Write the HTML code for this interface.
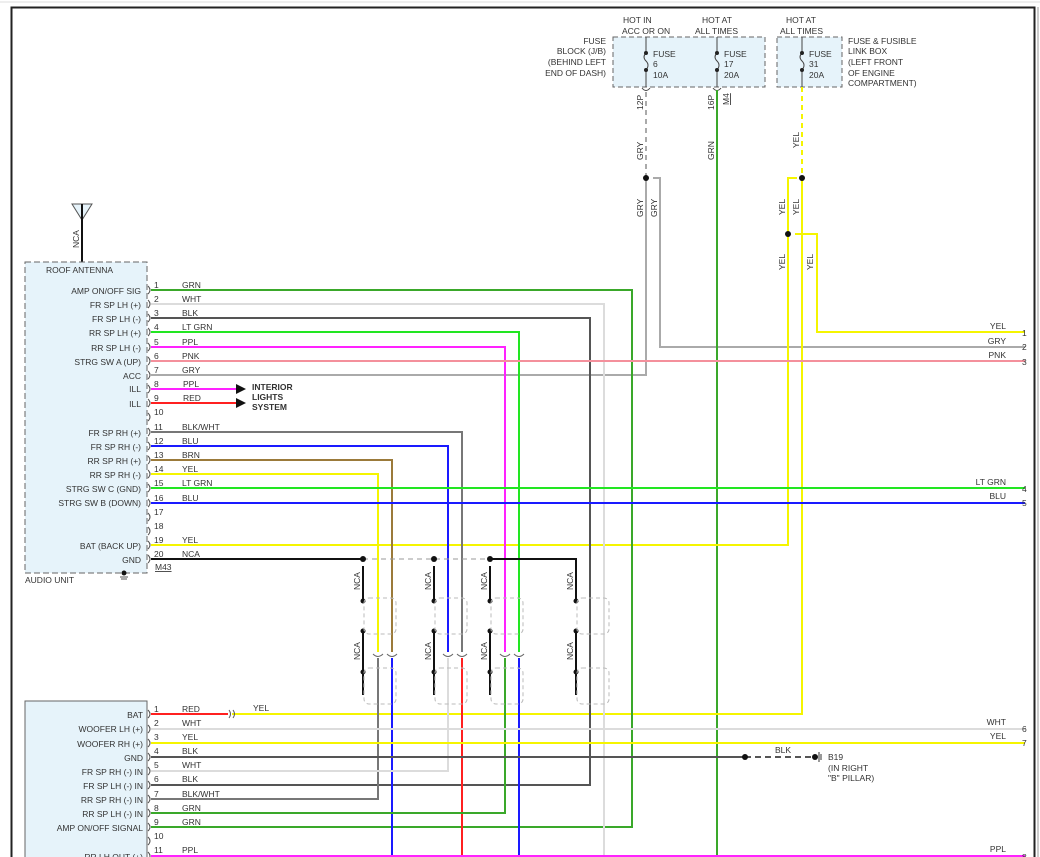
<!DOCTYPE html>
<html><head><meta charset="utf-8"><style>
html,body{margin:0;padding:0;background:#fff;}
svg{display:block;}
text{font-family:"Liberation Sans",sans-serif;font-size:8.5px;fill:#333;}
</style></head><body>
<svg width="1040" height="857" viewBox="0 0 1040 857" xmlns="http://www.w3.org/2000/svg">
<line x1="0" y1="2" x2="1040" y2="2" stroke="#ddd" stroke-width="1"/>
<path d="M11.5 857 V7.5 H1034.5 V857" fill="none" stroke="#222" stroke-width="2"/>
<line x1="1038" y1="7" x2="1038" y2="857" stroke="#999" stroke-width="1"/>

<!-- fuse boxes -->
<rect x="613" y="37" width="152" height="50" fill="#e6f3fa" stroke="#666" stroke-dasharray="5,3"/>
<rect x="777" y="37" width="65" height="50" fill="#e6f3fa" stroke="#666" stroke-dasharray="5,3"/>
<g stroke="#444" fill="none" stroke-width="1">
<path d="M646 37 V53 q-4 4 0 8 q4 4 0 9 V87"/><path d="M717 37 V53 q-4 4 0 8 q4 4 0 9 V87"/><path d="M802 37 V53 q-4 4 0 8 q4 4 0 9 V87"/>
<path d="M642 88 q4 5 8 0 M713 88 q4 5 8 0"/>
</g>
<g fill="#222"><circle cx="646" cy="53" r="2"/><circle cx="646" cy="70" r="2"/><circle cx="717" cy="53" r="2"/><circle cx="717" cy="70" r="2"/><circle cx="802" cy="53" r="2"/><circle cx="802" cy="70" r="2"/></g>
<text x="623" y="23" >HOT IN</text><text x="622" y="34">ACC OR ON</text>
<text x="702" y="23">HOT AT</text><text x="695" y="34">ALL TIMES</text>
<text x="786" y="23">HOT AT</text><text x="780" y="34">ALL TIMES</text>
<text x="653" y="57">FUSE</text><text x="653" y="67">6</text><text x="653" y="78">10A</text>
<text x="724" y="57">FUSE</text><text x="724" y="67">17</text><text x="724" y="78">20A</text>
<text x="809" y="57">FUSE</text><text x="809" y="67">31</text><text x="809" y="78">20A</text>
<g text-anchor="end"><text x="606" y="44">FUSE</text><text x="606" y="54">BLOCK (J/B)</text><text x="606" y="65">(BEHIND LEFT</text><text x="606" y="76">END OF DASH)</text></g>
<text x="848" y="44">FUSE &amp; FUSIBLE</text><text x="848" y="54">LINK BOX</text><text x="848" y="65">(LEFT FRONT</text><text x="848" y="76">OF ENGINE</text><text x="848" y="86">COMPARTMENT)</text>
<text transform="translate(643,110) rotate(-90)">12P</text>
<text transform="translate(714,110) rotate(-90)">16P</text>
<text transform="translate(729,105) rotate(-90)" text-decoration="underline">M4</text>

<!-- top vertical wires -->
<line x1="646" y1="92" x2="646" y2="178" stroke="#aaa" stroke-width="2" stroke-dasharray="5,4"/>
<path d="M646 178 V375 H151" fill="none" stroke="#aaa" stroke-width="2"/>
<path d="M653 178 H660 V347 H1025" fill="none" stroke="#aaa" stroke-width="2"/>
<line x1="717" y1="90" x2="717" y2="857" stroke="#3aa82a" stroke-width="2"/>
<line x1="802" y1="87" x2="802" y2="178" stroke="#f5f500" stroke-width="2" stroke-dasharray="5,4"/>
<path d="M802 178 V714 H232" fill="none" stroke="#f5f500" stroke-width="2"/>
<path d="M797 178 H788 V545 H151" fill="none" stroke="#f5f500" stroke-width="2"/>
<path d="M795 234 H817 V332 H1025" fill="none" stroke="#f5f500" stroke-width="2"/>
<g fill="#111"><circle cx="646" cy="178" r="3"/><circle cx="802" cy="178" r="3"/><circle cx="788" cy="234" r="3"/></g>
<g font-size="8">
<text transform="translate(643,160) rotate(-90)">GRY</text>
<text transform="translate(643,217) rotate(-90)">GRY</text>
<text transform="translate(657,217) rotate(-90)">GRY</text>
<text transform="translate(714,160) rotate(-90)">GRN</text>
<text transform="translate(799,148) rotate(-90)">YEL</text>
<text transform="translate(785,215) rotate(-90)">YEL</text>
<text transform="translate(799,215) rotate(-90)">YEL</text>
<text transform="translate(785,270) rotate(-90)">YEL</text>
<text transform="translate(813,270) rotate(-90)">YEL</text>
</g>

<!-- antenna -->
<path d="M72 204 H92 L82 220 Z" fill="#e6f3fa" stroke="#555"/>
<line x1="82" y1="204" x2="82" y2="262" stroke="#111" stroke-width="2"/>
<text transform="translate(79,248) rotate(-90)">NCA</text>

<!-- audio unit -->
<rect x="25" y="262" width="122" height="311" fill="#e6f3fa" stroke="#666" stroke-dasharray="6,3"/>
<text x="46" y="273">ROOF ANTENNA</text>
<text x="25" y="583">AUDIO UNIT</text>
<text x="155" y="570" text-decoration="underline">M43</text>
<circle cx="124" cy="573" r="2.5" fill="#111"/>
<g stroke="#555"><line x1="120" y1="577" x2="128" y2="577"/><line x1="121" y1="579" x2="127" y2="579"/></g>

<!-- top wires -->
<g fill="none" stroke-width="2">
<path d="M151 290 H632 V827 H151" stroke="#3aa82a"/>
<path d="M151 304 H604 V857" stroke="#dcdcdc"/>
<path d="M151 318 H590 V785 H151" stroke="#555"/>
<path d="M151 332 H519 V652" stroke="#22e622"/>
<path d="M151 347 H505 V652" stroke="#ff22ff"/>
<path d="M151 361 H1025" stroke="#f4909c"/>
<path d="M151 389 H238" stroke="#ff22ff"/>
<path d="M151 403 H238" stroke="#ff2020"/>
<path d="M151 432 H462 V652" stroke="#777"/>
<path d="M151 446 H448 V652" stroke="#1a1aff"/>
<path d="M151 460 H392 V652" stroke="#9b7a3a"/>
<path d="M151 474 H378 V652" stroke="#f5f500"/>
<path d="M151 488 H1025" stroke="#22e622"/>
<path d="M151 503 H1025" stroke="#1a1aff"/>
<path d="M151 559 H363" stroke="#111"/>
<path d="M490 559 H576 V600" stroke="#111"/>
<path d="M378 658 V799 H151" stroke="#777"/>
<path d="M392 658 V857" stroke="#1a1aff"/>
<path d="M448 658 V771 H151" stroke="#dcdcdc"/>
<path d="M462 658 V857" stroke="#ff2020"/>
<path d="M505 658 V813 H151" stroke="#3aa82a"/>
<path d="M519 658 V857" stroke="#1a1aff"/>
<path d="M151 714 H228" stroke="#ff2020"/>
<path d="M151 729 H1025" stroke="#dcdcdc"/>
<path d="M151 743 H1025" stroke="#f5f500"/>
<path d="M151 757 H745" stroke="#555"/>
<path d="M151 856 H1025" stroke="#ff22ff"/>
</g>
<!-- pin brackets -->
<g fill="none" stroke="#555" stroke-width="1">
<path d="M148 286 q4 4 0 8 M148 300 q4 4 0 8 M148 314 q4 4 0 8 M148 328 q4 4 0 8 M148 343 q4 4 0 8 M148 357 q4 4 0 8 M148 371 q4 4 0 8 M148 385 q4 4 0 8 M148 399 q4 4 0 8 M148 413 q4 4 0 8 M148 428 q4 4 0 8 M148 442 q4 4 0 8 M148 456 q4 4 0 8 M148 470 q4 4 0 8 M148 484 q4 4 0 8 M148 499 q4 4 0 8 M148 513 q4 4 0 8 M148 527 q4 4 0 8 M148 541 q4 4 0 8 M148 555 q4 4 0 8"/>
<path d="M148 710 q4 4 0 8 M148 725 q4 4 0 8 M148 739 q4 4 0 8 M148 753 q4 4 0 8 M148 767 q4 4 0 8 M148 781 q4 4 0 8 M148 795 q4 4 0 8 M148 809 q4 4 0 8 M148 823 q4 4 0 8 M148 837 q4 4 0 8 M148 852 q4 4 0 8"/>
</g>
<line x1="363" y1="559" x2="490" y2="559" stroke="#999" stroke-dasharray="5,4"/>
<line x1="745" y1="757" x2="815" y2="757" stroke="#555" stroke-width="2" stroke-dasharray="6,4"/>
<g fill="#111"><circle cx="745" cy="757" r="3"/><circle cx="815" cy="757" r="3"/><circle cx="363" cy="559" r="3"/><circle cx="434" cy="559" r="3"/><circle cx="490" cy="559" r="3"/></g>
<g stroke="#333"><line x1="819" y1="752" x2="819" y2="762"/><line x1="821" y1="754" x2="821" y2="760"/></g>
<text x="828" y="760">B19</text><text x="828" y="771">(IN RIGHT</text><text x="828" y="781">"B" PILLAR)</text>
<text x="775" y="753">BLK</text>
<path d="M229 710 q3 4 0 8 M233 710 q3 4 0 8" fill="none" stroke="#555"/>
<text x="253" y="711">YEL</text>
<path d="M236 384 L246 389 L236 394 Z M236 398 L246 403 L236 408 Z" fill="#111"/>
<text x="252" y="390" font-weight="bold" font-size="8">INTERIOR</text><text x="252" y="400" font-weight="bold" font-size="8">LIGHTS</text><text x="252" y="410" font-weight="bold" font-size="8">SYSTEM</text>

<!-- NCA groups -->
<g stroke="#111" stroke-width="2">
<line x1="363" y1="566" x2="363" y2="600"/><line x1="363" y1="631" x2="363" y2="695"/>
<line x1="434" y1="566" x2="434" y2="600"/><line x1="434" y1="631" x2="434" y2="695"/>
<line x1="490" y1="566" x2="490" y2="600"/><line x1="490" y1="631" x2="490" y2="695"/>
<line x1="576" y1="631" x2="576" y2="695"/>
</g>
<g fill="#111">
<circle cx="363" cy="601" r="2.5"/><circle cx="363" cy="631" r="2.5"/><circle cx="363" cy="672" r="2.5"/>
<circle cx="434" cy="601" r="2.5"/><circle cx="434" cy="631" r="2.5"/><circle cx="434" cy="672" r="2.5"/>
<circle cx="490" cy="601" r="2.5"/><circle cx="490" cy="631" r="2.5"/><circle cx="490" cy="672" r="2.5"/>
<circle cx="576" cy="601" r="2.5"/><circle cx="576" cy="631" r="2.5"/><circle cx="576" cy="672" r="2.5"/>
</g>
<g fill="none" stroke="#bbb" stroke-dasharray="4,3">
<rect x="364" y="598" width="32" height="36" rx="5"/><rect x="364" y="668" width="32" height="36" rx="5"/>
<rect x="435" y="598" width="32" height="36" rx="5"/><rect x="435" y="668" width="32" height="36" rx="5"/>
<rect x="491" y="598" width="32" height="36" rx="5"/><rect x="491" y="668" width="32" height="36" rx="5"/>
<rect x="577" y="598" width="32" height="36" rx="5"/><rect x="577" y="668" width="32" height="36" rx="5"/>
</g>
<g fill="none" stroke="#666">
<path d="M373 654 q5 5 10 0 M387 654 q5 5 10 0 M443 654 q5 5 10 0 M457 654 q5 5 10 0 M500 654 q5 5 10 0 M514 654 q5 5 10 0"/>
</g>
<g font-size="8">
<text transform="translate(360,590) rotate(-90)">NCA</text><text transform="translate(360,660) rotate(-90)">NCA</text>
<text transform="translate(431,590) rotate(-90)">NCA</text><text transform="translate(431,660) rotate(-90)">NCA</text>
<text transform="translate(487,590) rotate(-90)">NCA</text><text transform="translate(487,660) rotate(-90)">NCA</text>
<text transform="translate(573,590) rotate(-90)">NCA</text><text transform="translate(573,660) rotate(-90)">NCA</text>
</g>

<g text-anchor="end">
<text x="141" y="294">AMP ON/OFF SIG</text><text x="141" y="308">FR SP LH (+)</text><text x="141" y="322">FR SP LH (-)</text>
<text x="141" y="336">RR SP LH (+)</text><text x="141" y="351">RR SP LH (-)</text><text x="141" y="365">STRG SW A (UP)</text>
<text x="141" y="379">ACC</text><text x="141" y="392">ILL</text><text x="141" y="407">ILL</text>
<text x="141" y="436">FR SP RH (+)</text><text x="141" y="450">FR SP RH (-)</text><text x="141" y="464">RR SP RH (+)</text>
<text x="141" y="478">RR SP RH (-)</text><text x="141" y="492">STRG SW C (GND)</text><text x="141" y="506">STRG SW B (DOWN)</text>
<text x="141" y="549">BAT (BACK UP)</text><text x="141" y="563">GND</text>
</g>
<g>
<text x="154" y="288">1</text><text x="154" y="302">2</text><text x="154" y="316">3</text><text x="154" y="330">4</text><text x="154" y="345">5</text>
<text x="154" y="359">6</text><text x="154" y="373">7</text><text x="154" y="387">8</text><text x="154" y="401">9</text><text x="154" y="415">10</text>
<text x="154" y="430">11</text><text x="154" y="444">12</text><text x="154" y="458">13</text><text x="154" y="472">14</text><text x="154" y="486">15</text>
<text x="154" y="501">16</text><text x="154" y="515">17</text><text x="154" y="529">18</text><text x="154" y="543">19</text><text x="154" y="557">20</text>
<text x="182" y="288">GRN</text><text x="182" y="302">WHT</text><text x="182" y="316">BLK</text><text x="182" y="330">LT GRN</text>
<text x="182" y="345">PPL</text><text x="182" y="359">PNK</text><text x="182" y="373">GRY</text><text x="183" y="387">PPL</text>
<text x="183" y="401">RED</text><text x="182" y="430">BLK/WHT</text><text x="182" y="444">BLU</text><text x="182" y="458">BRN</text>
<text x="182" y="472">YEL</text><text x="182" y="486">LT GRN</text><text x="182" y="501">BLU</text><text x="182" y="543">YEL</text><text x="182" y="557">NCA</text>
</g>

<rect x="25" y="701" width="122" height="170" fill="#e6f3fa" stroke="#666"/>
<g text-anchor="end">
<text x="143" y="718">BAT</text><text x="143" y="732">WOOFER LH (+)</text><text x="143" y="747">WOOFER RH (+)</text>
<text x="143" y="761">GND</text><text x="143" y="775">FR SP RH (-) IN</text><text x="143" y="789">FR SP LH (-) IN</text>
<text x="143" y="803">RR SP RH (-) IN</text><text x="143" y="817">RR SP LH (-) IN</text><text x="143" y="831">AMP ON/OFF SIGNAL</text>
<text x="143" y="860">RR LH OUT (+)</text>
</g>
<g>
<text x="154" y="712">1</text><text x="154" y="726">2</text><text x="154" y="740">3</text><text x="154" y="754">4</text><text x="154" y="768">5</text>
<text x="154" y="782">6</text><text x="154" y="797">7</text><text x="154" y="811">8</text><text x="154" y="825">9</text><text x="154" y="839">10</text><text x="154" y="853">11</text>
<text x="182" y="712">RED</text><text x="182" y="726">WHT</text><text x="182" y="740">YEL</text><text x="182" y="754">BLK</text>
<text x="182" y="768">WHT</text><text x="182" y="782">BLK</text><text x="182" y="797">BLK/WHT</text><text x="182" y="811">GRN</text>
<text x="182" y="825">GRN</text><text x="182" y="853">PPL</text>
</g>

<g text-anchor="end">
<text x="1006" y="329">YEL</text><text x="1006" y="344">GRY</text><text x="1006" y="358">PNK</text>
<text x="1006" y="485">LT GRN</text><text x="1006" y="499">BLU</text>
<text x="1006" y="725">WHT</text><text x="1006" y="739">YEL</text><text x="1006" y="852">PPL</text>
</g>
<g>
<text x="1022" y="336">1</text><text x="1022" y="350">2</text><text x="1022" y="365">3</text>
<text x="1022" y="492">4</text><text x="1022" y="506">5</text>
<text x="1022" y="732">6</text><text x="1022" y="746">7</text><text x="1022" y="860">8</text>
</g>
</svg>
</body></html>
